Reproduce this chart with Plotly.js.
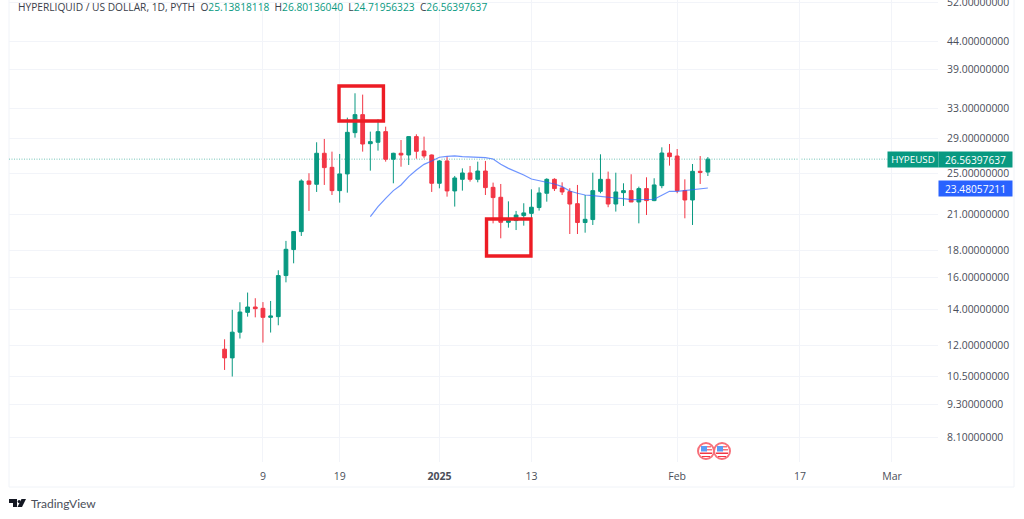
<!DOCTYPE html>
<html><head><meta charset="utf-8">
<script src="https://cdn.plot.ly/plotly-3.0.1.min.js"></script>
<style>html,body{margin:0;padding:0;background:#fff}#c{width:1024px;height:519px}</style>
</head><body><div id="c"></div>
<script>
const dates=["2024-12-04","2024-12-05","2024-12-06","2024-12-07","2024-12-08","2024-12-09","2024-12-10","2024-12-11","2024-12-12","2024-12-13","2024-12-14","2024-12-15","2024-12-16","2024-12-17","2024-12-18","2024-12-19","2024-12-20","2024-12-21","2024-12-22","2024-12-23","2024-12-24","2024-12-25","2024-12-26","2024-12-27","2024-12-28","2024-12-29","2024-12-30","2024-12-31","2025-01-01","2025-01-02","2025-01-03","2025-01-04","2025-01-05","2025-01-06","2025-01-07","2025-01-08","2025-01-09","2025-01-10","2025-01-11","2025-01-12","2025-01-13","2025-01-14","2025-01-15","2025-01-16","2025-01-17","2025-01-18","2025-01-19","2025-01-20","2025-01-21","2025-01-22","2025-01-23","2025-01-24","2025-01-25","2025-01-26","2025-01-27","2025-01-28","2025-01-29","2025-01-30","2025-01-31","2025-02-01","2025-02-02","2025-02-03","2025-02-04","2025-02-05"];
const opens=[11.79,11.36,12.68,13.80,14.12,14.04,13.51,13.55,16.15,18.05,19.49,24.20,23.86,27.24,25.65,23.22,24.94,29.75,32.13,28.38,28.55,29.88,26.55,27.24,27.04,29.25,27.51,27.04,23.96,26.36,23.19,24.37,25.04,24.37,25.25,23.55,22.57,20.28,20.43,20.87,21.07,21.60,22.96,24.37,23.49,23.12,21.96,20.26,20.52,23.15,24.37,21.93,23.02,23.22,22.12,23.42,22.25,23.72,27.27,26.92,23.22,22.31,25.22,25.13818118];
const highs=[12.30,13.95,14.41,15.02,14.66,14.42,14.49,16.52,18.73,19.51,24.37,25.01,28.55,28.96,27.43,27.16,31.72,35.20,35.00,29.88,31.50,30.52,27.30,28.83,29.30,29.54,29.25,27.10,26.47,26.85,24.72,25.54,25.80,26.28,26.36,24.03,23.89,22.18,21.29,22.00,23.35,23.55,24.48,24.48,24.06,23.46,23.79,22.79,25.07,27.12,25.19,25.07,23.96,24.90,23.62,24.58,24.48,27.94,28.34,27.74,24.37,26.02,26.92,26.8013604];
const lows=[10.79,10.49,12.34,13.55,13.51,12.13,12.66,13.06,15.69,17.02,19.13,21.29,23.09,23.79,22.79,22.06,23.02,29.12,27.43,25.29,27.55,26.28,23.96,25.72,25.91,26.62,26.66,23.09,23.45,22.63,21.69,23.22,24.13,24.06,22.79,20.19,18.94,19.82,19.62,19.99,20.49,21.32,22.15,23.18,22.79,19.29,19.29,19.40,20.05,22.96,21.63,21.23,21.75,22.12,20.19,20.92,22.20,23.46,25.84,22.96,20.63,20.05,23.89,24.71956323];
const closes=[11.36,12.68,13.82,14.12,14.02,13.51,13.59,16.15,18.07,19.49,24.20,23.86,27.24,25.62,23.22,24.94,29.79,32.13,28.34,28.63,29.88,26.55,27.24,27.04,29.25,27.47,26.93,23.96,26.36,23.19,24.51,25.04,24.37,25.25,23.52,22.54,20.28,20.43,20.92,21.11,21.63,22.99,24.37,23.42,23.09,21.93,20.26,20.54,23.22,24.37,21.93,23.09,23.22,22.12,23.42,22.25,23.79,27.27,26.85,23.22,22.31,25.22,25.11,26.56397637];
const maValues=[null,null,null,null,null,null,null,null,null,null,null,null,null,null,null,null,null,null,null,20.78,21.69,22.47,23.22,23.79,24.65,25.36,25.98,26.36,26.78,26.89,26.93,26.85,26.82,26.73,26.73,26.58,25.98,25.54,25.22,24.82,24.40,24.23,24.06,23.89,23.62,23.18,22.96,22.79,22.73,22.63,22.57,22.50,22.44,22.34,22.34,22.34,22.38,22.76,23.15,23.15,23.22,23.35,23.42,23.48057211];
const priceTicks=[8.1,9.3,10.5,12,14,16,18,21,25,29,33,39,44,52];
const priceLabels=["8.10000000","9.30000000","10.50000000","12.00000000","14.00000000","16.00000000","18.00000000","21.00000000","25.00000000","29.00000000","33.00000000","39.00000000","44.00000000","52.00000000"];
const dateTicks=["2024-12-09","2024-12-19","2025-01-01","2025-01-13","2025-02-01","2025-02-17","2025-03-01"];
const dateLabels=["9","19","<b>2025</b>","13","Feb","17","Mar"];

const GREEN="#089981",RED="#F23645",BLUE="#2962FF",GRID="#f2f4f9",TXT="#4a4e59";
const F="'Open Sans', sans-serif";
const W=1024,H=519,L=9,R=938,B=462;
const px=x=>(x-L)/(R-L), py=y=>(B-y)/B;
const lastClose=closes[closes.length-1], lastMA=maValues[maValues.length-1];

const traces=[
 {type:"candlestick",x:dates,open:opens,high:highs,low:lows,close:closes,width:0.62*864e5,whiskerwidth:0,
  increasing:{line:{color:GREEN,width:1},fillcolor:GREEN},decreasing:{line:{color:RED,width:1},fillcolor:RED},hoverinfo:"skip",showlegend:false},
 {type:"scatter",mode:"lines",x:dates,y:maValues,line:{color:BLUE,width:1.2},opacity:.68,hoverinfo:"skip",showlegend:false,connectgaps:false}
];
const box=(x0,x1,y0,y1)=>({type:"rect",xref:"x",yref:"y",x0,x1,y0,y1,line:{color:"#ED1C24",width:3.4},fillcolor:"rgba(0,0,0,0)",layer:"above"});
const frame=(x0,y0,x1,y1)=>({type:"line",xref:"paper",yref:"paper",x0:px(x0),x1:px(x1),y0:py(y0),y1:py(y1),line:{color:"#f0f3f8",width:1},layer:"below"});
const P=(pts)=>"M"+pts.map(p=>px(p[0])+","+py(p[1])).join("L")+"Z";
const fill=(pts,c)=>({type:"path",xref:"paper",yref:"paper",path:P(pts),fillcolor:c,line:{width:0},layer:"above"});
function flag(cx,cy){
 return [
  {type:"circle",xref:"paper",yref:"paper",x0:px(cx-8),x1:px(cx+8),y0:py(cy+8),y1:py(cy-8),fillcolor:"#fff",line:{color:"#F7707A",width:2},layer:"above"},
  fill([[cx-5,cy-5],[cx+1,cy-5],[cx+1,cy+0.5],[cx-5,cy+0.5]],"#5B9CF6"),
  fill([[cx+1,cy-5],[cx+5,cy-5],[cx+5,cy-3.5],[cx+1,cy-3.5]],"#F7707A"),
  fill([[cx+1,cy-2],[cx+6,cy-2],[cx+6,cy-0.5],[cx+1,cy-0.5]],"#F7707A"),
  fill([[cx-6,cy+1.5],[cx+6,cy+1.5],[cx+6,cy+3],[cx-6,cy+3]],"#F23645"),
  fill([[cx-4,cy+5],[cx+4,cy+5],[cx+4,cy+6],[cx-4,cy+6]],"#F23645")
 ];
}
const shapes=[
 frame(L,0,L,487),frame(L,487,1014,487),frame(1014,0,1014,487),
 {type:"line",xref:"paper",yref:"y",x0:0,x1:px(888),y0:lastClose,y1:lastClose,line:{color:GREEN,width:1,dash:"1px,1.5px"},layer:"below",opacity:.55},
 box("2024-12-18 22:00","2024-12-24 17:00",31.27,36.32),
 box("2025-01-07 03:30","2025-01-12 22:30",17.56,20.57),
 ...flag(706,451),...flag(722,451),
 fill([[9,499],[17,499],[17,507],[13,507],[13,503],[9,503]],"#131722"),
 {type:"circle",xref:"paper",yref:"paper",x0:px(17.6),x1:px(20.6),y0:py(503),y1:py(500),fillcolor:"#131722",line:{width:0}},
 fill([[21.5,499],[26,499],[22,507],[17.5,507]],"#131722")
];
const tag=(x0,x1,yv,text,bg,size)=>({xref:"paper",yref:"y",x:px((x0+x1)/2),y:Math.log10(yv),xanchor:"center",yanchor:"middle",text,width:x1-x0,height:15,bgcolor:bg,borderpad:0,showarrow:false,align:"center",font:{family:F,size,color:"#fff"}});
const layout={
 width:W,height:H,autosize:false,margin:{l:L,r:W-R,t:0,b:H-B,pad:0},paper_bgcolor:"#fff",plot_bgcolor:"#fff",showlegend:false,dragmode:false,
 xaxis:{type:"date",range:["2024-11-05 21:30","2025-03-07 00:00"],tickmode:"array",tickvals:dateTicks,ticktext:dateLabels,tickangle:0,
   showgrid:true,gridcolor:GRID,gridwidth:1,zeroline:false,showline:false,ticks:"outside",ticklen:4,tickcolor:"rgba(0,0,0,0)",
   tickfont:{family:F,size:10.5,color:TXT},rangeslider:{visible:false},fixedrange:true},
 yaxis:{type:"log",range:[Math.log10(7.28),Math.log10(52.446)],side:"right",tickmode:"array",tickvals:priceTicks,ticktext:priceLabels,ticklabeloverflow:"allow",
   showgrid:true,gridcolor:GRID,gridwidth:1,zeroline:false,showline:false,ticks:"outside",ticklen:6,tickcolor:"rgba(0,0,0,0)",
   tickfont:{family:F,size:10.4,color:TXT},fixedrange:true},
 shapes,
 annotations:[
  {xref:"paper",yref:"paper",x:px(17),y:py(7),xanchor:"left",yanchor:"middle",showarrow:false,borderpad:0,
   text:'HYPERLIQUID / US DOLLAR, 1D, PYTH  O<span style="color:#089981">25.13818118</span>  H<span style="color:#089981">26.80136040</span>  L<span style="color:#089981">24.71956323</span>  C<span style="color:#089981">26.56397637</span>',
   font:{family:F,size:10.2,color:"#3a3e4a"}},
  tag(888,938,lastClose,"HYPEUSD",GREEN,9.8),
  tag(939,1012,lastClose,"26.56397637",GREEN,10.2),
  tag(939,1012,lastMA,"23.48057211",BLUE,10.2),
  {xref:"paper",yref:"paper",x:px(30),y:py(504),xanchor:"left",yanchor:"middle",showarrow:false,borderpad:0,text:"TradingView",font:{family:"Lato, sans-serif",size:12,color:"#4a4e59"}}
 ]
};
Plotly.newPlot("c",traces,layout,{displayModeBar:false,staticPlot:true});
</script></body></html>
